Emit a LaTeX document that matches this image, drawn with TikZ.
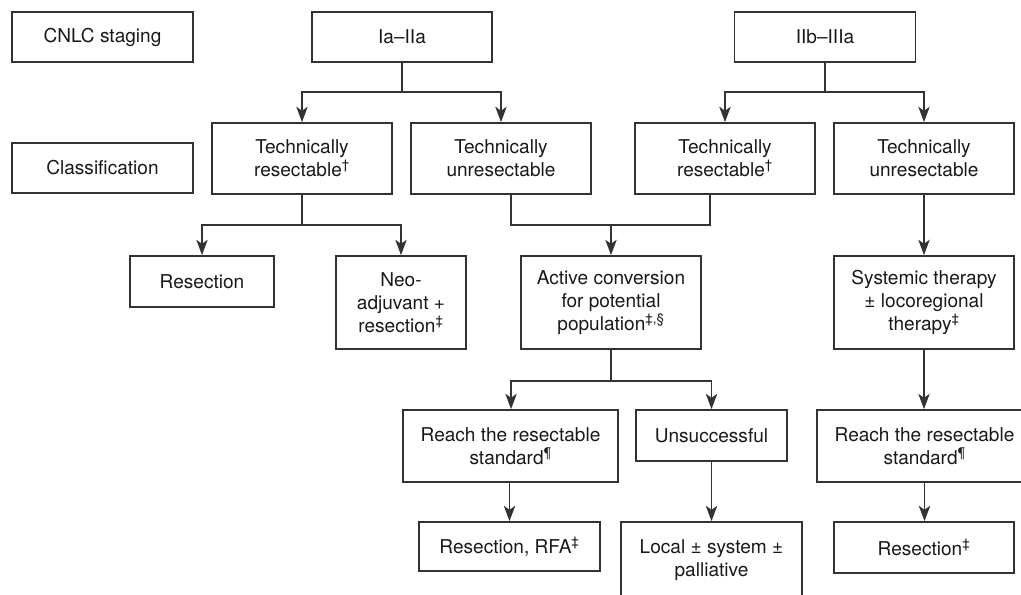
\documentclass[tikz,border=0pt]{standalone}
\usepackage{fontspec}
\setmainfont{TeX Gyre Heros}
\usetikzlibrary{arrows.meta,calc}
\tikzset{
  box/.style={draw=black!80, line width=1.3pt, align=center, inner sep=0pt, text=black!90,
    font=\fontsize{14.3pt}{17.25pt}\selectfont},
  line/.style={draw=black!80, line width=1.3pt},
  arr/.style={line, -{Stealth[length=11.5pt,width=8.5pt,inset=3pt]}},
}
\newcommand{\sdag}{\textsuperscript{\textdagger}}
\newcommand{\sddag}{\textsuperscript{\textdaggerdbl}}
\begin{document}
\begin{tikzpicture}[x=0.75pt,y=-0.75pt]
\useasboundingbox (0,0) rectangle (1021,594);
% row 1
\node[box, minimum width=135.75pt, minimum height=37.5pt] (cnlc) at (102.5,37) {CNLC staging};
\node[box, minimum width=135pt, minimum height=37.5pt] (iaiia) at (402,37) {Ia–IIa};
\node[box, minimum width=135.75pt, minimum height=37.5pt] (iibiiia) at (825,37) {IIb–IIIa};
% row 2
\node[box, minimum width=135.75pt, minimum height=37.5pt] (class) at (102.5,168) {Classification};
\node[box, minimum width=135pt, minimum height=53.25pt] (tr1) at (302,158.5) {Technically\\resectable\sdag};
\node[box, minimum width=135pt, minimum height=53.25pt] (tu1) at (501,158.5) {Technically\\unresectable};
\node[box, minimum width=135pt, minimum height=53.25pt] (tr2) at (725,158.5) {Technically\\resectable\sdag};
\node[box, minimum width=135pt, minimum height=53.25pt] (tu2) at (924,158.5) {Technically\\unresectable};
% row 3
\node[box, minimum width=108pt, minimum height=38.25pt] (resec) at (202,281.5) {Resection};
\node[box, minimum width=97.5pt, minimum height=69.75pt] (neo) at (401,302.5) {Neo-\\adjuvant +\\resection\sddag};
\node[box, minimum width=135pt, minimum height=69.75pt] (active) at (611,302.5) {Active conversion\\for potential\\population\textsuperscript{\textdaggerdbl,\textsection}};
\node[box, minimum width=135pt, minimum height=69.75pt] (sys) at (924,302.5) {Systemic therapy\\± locoregional\\therapy\sddag};
% row 4
\node[box, minimum width=161.25pt, minimum height=54pt] (reach1) at (510.5,446) {Reach the resectable\\standard\textsuperscript{\textparagraph}};
\node[box, minimum width=113.25pt, minimum height=38.25pt] (unsucc) at (711.5,435.5) {Unsuccessful};
\node[box, minimum width=161.25pt, minimum height=54pt] (reach2) at (924.5,446) {Reach the resectable\\standard\textsuperscript{\textparagraph}};
% row 5
\node[box, minimum width=135.75pt, minimum height=36.75pt] (resrfa) at (509.5,546.5) {Resection, RFA\sddag};
\node[box, minimum width=135.75pt, minimum height=57.75pt] (local) at (711.5,560.5) {Local ± system ±\\palliative};
\node[box, minimum width=135pt, minimum height=38.25pt] (res2) at (924,547.5) {Resection\sddag};
% junctions
\coordinate (j1) at (402,92);
\coordinate (j2) at (825,92);
\coordinate (j3) at (302,225);
\coordinate (j4) at (611,225);
\coordinate (j5) at (611,381);
% connectors
\draw[line] (iaiia.south) -- (j1);
\draw[arr] (j1) -| (tr1.north);
\draw[arr] (j1) -| (tu1.north);
\draw[line] (iibiiia.south) -- (j2);
\draw[arr] (j2) -| (tr2.north);
\draw[arr] (j2) -| (tu2.north);
\draw[line] (tr1.south) -- (j3);
\draw[arr] (j3) -| (resec.north);
\draw[arr] (j3) -| (neo.north);
\draw[line] ([xshift=7.5pt]tu1.south) |- (j4) -| ([xshift=-11.25pt]tr2.south);
\draw[arr] (j4) -- (active.north);
\draw[arr] (tu2.south) -- (sys.north);
\draw[line] (active.south) -- (j5);
\draw[arr] (j5) -| ([xshift=0.4pt]reach1.north);
\draw[arr] (j5) -| (unsucc.north);
\draw[arr] (sys.south) -- (sys.south |- reach2.north);
\draw[arr] ([xshift=-0.75pt]reach1.south) -- ([xshift=-0.75pt]reach1.south |- resrfa.north);
\draw[arr] (unsucc.south) -- (local.north);
\draw[arr] (reach2.south) -- (reach2.south |- res2.north);
\end{tikzpicture}
\end{document}
